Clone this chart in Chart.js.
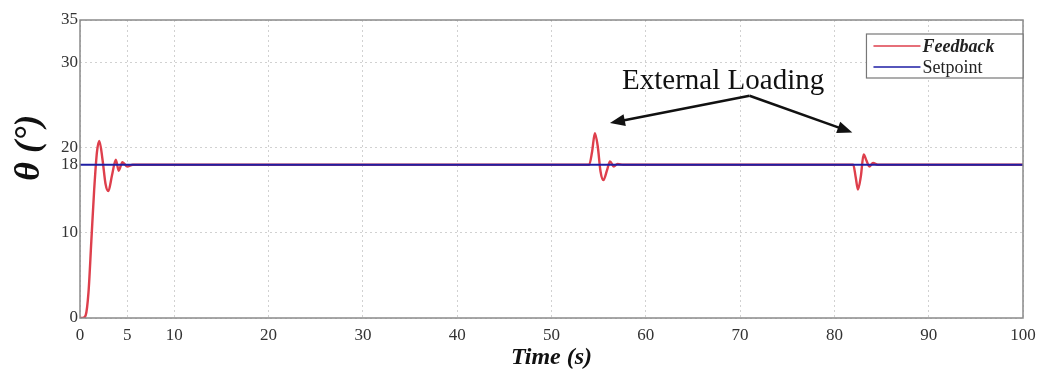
<!DOCTYPE html>
<html>
<head>
<meta charset="utf-8">
<script src="https://cdn.jsdelivr.net/npm/chart.js@4.4.0/dist/chart.umd.min.js"></script>
<style>
  html, body { margin: 0; padding: 0; background: #fff; }
  #wrap { width: 1040px; height: 376px; }
</style>
</head>
<body>
<div id="wrap"><canvas id="thetaChart"></canvas></div>
<script>
// angle response, time in seconds
const feedbackTime = [0, 0.3, 0.6, 0.9, 1.2, 1.5, 1.8, 2.05, 2.4, 2.7, 3.0, 3.4, 3.8, 4.1, 4.5, 5.0, 5.6,
  54.0, 54.3, 54.6, 54.9, 55.2, 55.5, 55.9, 56.2, 56.6, 57.0, 57.6,
  82.0, 82.25, 82.5, 82.8, 83.1, 83.4, 83.7, 84.1, 84.6, 100];
const feedbackValue = [0, 0, 0.3, 3, 9, 15, 19.5, 20.8, 18.5, 15.8, 14.9, 16.8, 18.6, 17.3, 18.3, 17.8, 18,
  18, 19.5, 21.7, 20.2, 17.2, 16.2, 17.4, 18.4, 17.8, 18.1, 18,
  18, 16.6, 15.1, 16.6, 19.2, 18.5, 17.8, 18.2, 18, 18];
const setpointTime = [0, 100];
const setpointValue = [18, 18];

const xTicks = [0, 5, 10, 20, 30, 40, 50, 60, 70, 80, 90, 100];
const yTicks = [0, 10, 18, 20, 30, 35];

// "External Loading" note, in data units
const noteText = 'External Loading';
const notePos = { x: 68.2, y: 27.8 };
const arrowFrom = { x: 71.0, y: 26.1 };
const arrowTips = [{ x: 56.2, y: 22.9 }, { x: 81.9, y: 21.8 }];

const yTitle = 'θ (°)';
const serif = '"Liberation Serif", "Times New Roman", serif';
const feedbackColor = '#de3f4c';
const setpointColor = '#1e1ea4';

const toPoints = (xs, ys) => xs.map((x, i) => ({ x: x, y: ys[i] }));

function arrow(ctx, x0, y0, x1, y1) {
    const a = Math.atan2(y1 - y0, x1 - x0);
    const len = 15, w = 6;
    ctx.beginPath();
    ctx.moveTo(x0, y0);
    ctx.lineTo(x1 - Math.cos(a) * len * 0.8, y1 - Math.sin(a) * len * 0.8);
    ctx.stroke();
    ctx.beginPath();
    ctx.moveTo(x1, y1);
    ctx.lineTo(x1 - Math.cos(a) * len + Math.sin(a) * w, y1 - Math.sin(a) * len - Math.cos(a) * w);
    ctx.lineTo(x1 - Math.cos(a) * len - Math.sin(a) * w, y1 - Math.sin(a) * len + Math.cos(a) * w);
    ctx.closePath();
    ctx.fill();
}

// frame, y title, legend box and annotation
const extras = {
    id: 'extras',
    afterDatasetsDraw(chart) {
        const { ctx, chartArea: ca, scales: { x, y } } = chart;
        ctx.save();
        ctx.strokeStyle = '#8a8a8a';
        ctx.lineWidth = 1.5;
        ctx.strokeRect(ca.left, ca.top, ca.right - ca.left, ca.bottom - ca.top);

        // y title sits a bit above the middle of the axis
        ctx.save();
        ctx.translate(30, y.getPixelForValue(20));
        ctx.rotate(-Math.PI / 2);
        ctx.fillStyle = '#111';
        ctx.font = 'italic bold 36px ' + serif;
        ctx.textAlign = 'center';
        ctx.textBaseline = 'middle';
        ctx.fillText(yTitle, 0, 0);
        ctx.restore();

        // legend
        const lx = ca.left + (ca.right - ca.left) * 0.834, ly = ca.top + 14;
        const lw = ca.right - lx, lh = 44;
        ctx.fillStyle = '#fff';
        ctx.fillRect(lx, ly, lw, lh);
        ctx.strokeStyle = '#777';
        ctx.lineWidth = 1.2;
        ctx.strokeRect(lx, ly, lw, lh);
        const rows = [
            { label: 'Feedback', color: feedbackColor, font: 'italic bold 18px ' + serif },
            { label: 'Setpoint', color: setpointColor, font: '18px ' + serif }
        ];
        rows.forEach((r, i) => {
            const ry = ly + 12 + i * 21;
            ctx.strokeStyle = r.color;
            ctx.lineWidth = 1.5;
            ctx.beginPath();
            ctx.moveTo(lx + 7, ry);
            ctx.lineTo(lx + 54, ry);
            ctx.stroke();
            ctx.fillStyle = '#222';
            ctx.font = r.font;
            ctx.textBaseline = 'middle';
            ctx.textAlign = 'left';
            ctx.fillText(r.label, lx + 56, ry + 1);
        });

        // annotation
        ctx.fillStyle = '#111';
        ctx.font = '29px ' + serif;
        ctx.textAlign = 'center';
        ctx.textBaseline = 'middle';
        ctx.fillText(noteText, x.getPixelForValue(notePos.x), y.getPixelForValue(notePos.y));
        ctx.strokeStyle = '#111';
        ctx.lineWidth = 2.5;
        const fx = x.getPixelForValue(arrowFrom.x), fy = y.getPixelForValue(arrowFrom.y);
        arrowTips.forEach(t => arrow(ctx, fx, fy, x.getPixelForValue(t.x), y.getPixelForValue(t.y)));
        ctx.restore();
    }
};

const gridStyle = {
    color: 'rgba(0,0,0,0.18)',
    lineWidth: 1,
    drawTicks: false
};

new Chart(document.getElementById('thetaChart'), {
    type: 'line',
    data: {
        datasets: [
            {
                label: 'Setpoint',
                data: toPoints(setpointTime, setpointValue),
                borderColor: setpointColor,
                borderWidth: 2.2,
                pointRadius: 0,
                order: 0
            },
            {
                label: 'Feedback',
                data: toPoints(feedbackTime, feedbackValue),
                borderColor: feedbackColor,
                borderWidth: 2.4,
                pointRadius: 0,
                cubicInterpolationMode: 'monotone',
                order: 1
            }
        ]
    },
    options: {
        responsive: true,
        maintainAspectRatio: false,
        animation: false,
        layout: { padding: { top: 20, right: 0, left: 0, bottom: 0 } },
        plugins: { legend: { display: false }, tooltip: { enabled: false } },
        scales: {
            x: {
                type: 'linear',
                min: 0,
                max: 100,
                afterBuildTicks: s => { s.ticks = xTicks.map(v => ({ value: v })); },
                afterFit: s => { s.height = 58; s.paddingRight = 17; s.paddingLeft = 0; },
                grid: gridStyle,
                border: { display: false, dash: [2, 3] },
                ticks: {
                    color: '#333',
                    padding: 7,
                    maxRotation: 0,
                    font: { family: serif, size: 17 }
                },
                title: {
                    display: true,
                    text: 'Time (s)',
                    color: '#111',
                    padding: { top: 0 },
                    font: { family: serif, size: 24, style: 'italic', weight: 'bold' }
                }
            },
            y: {
                min: 0,
                max: 35,
                afterBuildTicks: s => { s.ticks = yTicks.map(v => ({ value: v })); },
                afterFit: s => { s.width = 80; },
                grid: gridStyle,
                border: { display: false, dash: [2, 3] },
                ticks: {
                    color: '#333',
                    padding: 2,
                    font: { family: serif, size: 17 }
                },
                title: { display: false }
            }
        }
    },
    plugins: [extras]
});
</script>
</body>
</html>
